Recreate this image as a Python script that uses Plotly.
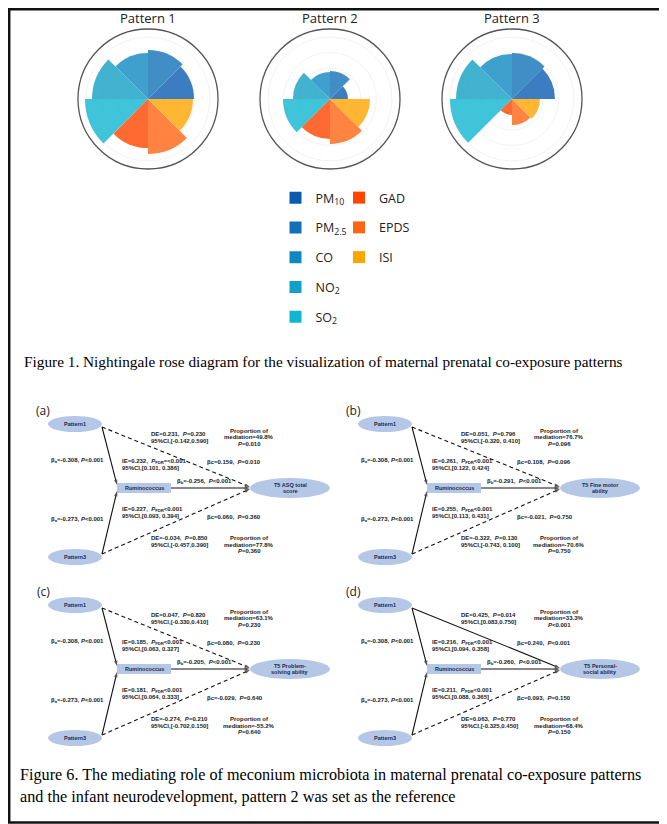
import plotly.graph_objects as go

# The page is shown with the browser's default 8px body margin, so the figure is
# sized to the visible area and its pixel axes are expressed in screen pixels.
OFF = 8
W, H = 667 - OFF, 824 - OFF
SW, SH = 667, 824

def paper_x(X):
    return (X - OFF) / W

def paper_y(Y):
    return (SH - Y) / H

# ---------------- Rose chart data ----------------
pollutants = ["PM10", "PM2.5", "CO", "NO2", "SO2", "GAD", "EPDS", "ISI"]
legend_names = ["PM<sub>10</sub>", "PM<sub>2.5</sub>", "CO", "NO<sub>2</sub>", "SO<sub>2</sub>", "GAD", "EPDS", "ISI"]
sector_theta = [22.5, 67.5, 112.5, 157.5, 202.5, 247.5, 292.5, 337.5]
colors = ["#0b5bb0", "#1270b8", "#0f87c0", "#12a0c6", "#10b5d0", "#ff4500", "#ff6512", "#ffa500"]
pattern_titles = ["Pattern 1", "Pattern 2", "Pattern 3"]
pattern1 = [46, 49, 46, 56, 63, 49, 55, 45]
pattern2 = [18, 28, 27, 37, 47, 40, 45, 40]
pattern3 = [43, 46, 45, 56, 62, 16, 26, 28]
patterns = [pattern1, pattern2, pattern3]
rose_centers_x = [148, 330, 512]
rose_center_y = 99
rose_radius = 70

# ---------------- Mediation diagram data ----------------
panel_labels = ["(a)", "(b)", "(c)", "(d)"]
outcome_line1 = ["T5 ASQ total", "T5 Fine motor", "T5 Problem-", "T5 Personal-"]
outcome_line2 = ["score", "ability", "solving ability", "social ability"]
beta_a_p1 = ["-0.308", "-0.308", "-0.308", "-0.308"]
beta_a_p3 = ["-0.273", "-0.273", "-0.273", "-0.273"]
beta_a_P = ["<0.001", "<0.001", "<0.001", "<0.001"]
beta_b = ["-0.256", "-0.291", "-0.205", "-0.260"]
beta_b_P = ["<0.001", "<0.001", "<0.001", "<0.001"]
de_p1 = ["0.231", "0.051", "0.047", "0.425"]
de_p1_P = ["=0.230", "=0.796", "=0.820", "=0.014"]
de_p1_ci = ["[-0.142,0.590]", "[-0.320, 0.410]", "[-0.330,0.410]", "[0.083,0.750]"]
ie_p1 = ["0.232", "0.261", "0.185", "0.216"]
ie_p1_P = ["=<0.001", "<0.001", "<0.001", "<0.001"]
ie_p1_ci = ["[0.101, 0.386]", "[0.122, 0.424]", "[0.063, 0.327]", "[0.094, 0.358]"]
bc_p1 = ["0.159", "0.108", "0.080", "0.240"]
bc_p1_P = ["=0.010", "=0.096", "=0.230", "<0.001"]
prop_p1 = ["49.8%", "76.7%", "63.1%", "33.3%"]
prop_p1_P = ["=0.010", "=0.096", "=0.230", "<0.001"]
ie_p3 = ["0.227", "0.255", "0.181", "0.211"]
ie_p3_P = ["<0.001", "<0.001", "<0.001", "<0.001"]
ie_p3_ci = ["[0.093, 0.394]", "[0.113, 0.431]", "[0.064, 0.333]", "[0.088, 0.365]"]
bc_p3 = ["0.060", "-0.021", "-0.029", "0.093"]
bc_p3_P = ["=0.360", "=0.750", "=0.640", "=0.150"]
de_p3 = ["-0.034", "-0.322", "-0.274", "0.063"]
de_p3_P = ["=0.850", "=0.130", "=0.210", "=0.770"]
de_p3_ci = ["[-0.457,0.390]", "[-0.743, 0.100]", "[-0.702,0.150]", "[-0.325,0.450]"]
prop_p3 = ["77.8%", "-70.6%", "-55.2%", "68.4%"]
prop_p3_P = ["=0.360", "=0.750", "=0.640", "=0.150"]
p1_direct_significant = [False, False, False, True]

caption1 = "Figure 1. Nightingale rose diagram for the visualization of maternal prenatal co-exposure patterns"
caption2a = "Figure 6. The mediating role of meconium microbiota in maternal prenatal co-exposure patterns"
caption2b = "and the infant neurodevelopment, pattern 2 was set as the reference"

panel_dx = [0, 310, 0, 310]
panel_dy = [0, 0, 181, 181]

fig = go.Figure()

# ---------------- Rose charts ----------------
polar_names = ["polar", "polar2", "polar3"]
for pi, vals in enumerate(patterns):
    for k, name in enumerate(pollutants):
        fig.add_trace(go.Barpolar(
            r=[vals[k]], theta=[sector_theta[k]], width=[45],
            marker=dict(color=colors[k], opacity=0.8, line=dict(width=0)),
            name=legend_names[k], legendgroup=name, showlegend=False,
            subplot=polar_names[pi], hoverinfo="name+r"))
# legend entries (zero-length bars carrying the full legend colour)
for k, name in enumerate(pollutants):
    fig.add_trace(go.Barpolar(
        r=[0], theta=[sector_theta[k]], width=[45],
        marker=dict(color=colors[k], line=dict(width=0)),
        name=legend_names[k], legendgroup=name, showlegend=True,
        legend="legend" if k < 5 else "legend2", subplot="polar", hoverinfo="skip"))

annotations = []
for pi in range(3):
    cx = rose_centers_x[pi]
    fig.update_layout(**{polar_names[pi]: dict(
        domain=dict(x=[paper_x(cx - rose_radius), paper_x(cx + rose_radius)],
                    y=[paper_y(rose_center_y + rose_radius), paper_y(rose_center_y - rose_radius)]),
        bgcolor="rgba(0,0,0,0)",
        radialaxis=dict(range=[0, 70], showticklabels=False, ticks="", showline=False,
                        gridcolor="#f3f3f3", gridwidth=1, tickvals=[15.5, 31, 46.5, 62]),
        angularaxis=dict(showgrid=False, showticklabels=False, ticks="", showline=True,
                         linecolor="#555555", linewidth=1.3,
                         direction="counterclockwise", rotation=0),
    )})
    annotations.append(dict(x=cx, y=18, xref="x", yref="y", text=pattern_titles[pi], showarrow=False,
                            font=dict(family="Open Sans", size=13, color="#222")))

# ---------------- pixel axes for the diagrams ----------------
fig.update_xaxes(range=[OFF, SW], visible=False, fixedrange=True, domain=[0, 1])
fig.update_yaxes(range=[SH, OFF], visible=False, fixedrange=True, domain=[0, 1])

shapes = []
TXT = dict(family="Liberation Sans", size=6, color="#222222", weight="bold")
NODE = dict(family="Liberation Sans", size=5.5, color="#1f2a4a", weight="bold")
ELL = "#b4c7e7"
LS = 6.5  # line spacing of the small diagram text

def txt(x, y, s, anchor="left", font=None):
    annotations.append(dict(x=x, y=y, xref="x", yref="y", text=s, showarrow=False,
                            xanchor=anchor, yanchor="middle", font=font or TXT))

def block(x, y_first, lines, anchor="left", font=None):
    for j, s in enumerate(lines):
        txt(x, y_first + j * LS, s, anchor=anchor, font=font)

def edge(x0, y0, x1, y1, dashed):
    fig.add_trace(go.Scatter(
        x=[x0, x1], y=[y0, y1], mode="lines+markers",
        line=dict(color="#111", width=1.1, dash="4px,3px" if dashed else "solid"),
        marker=dict(symbol=["circle", "arrow"], size=[0, 5.5], angleref="previous",
                    color="#111", line=dict(width=0)),
        showlegend=False, hoverinfo="skip", cliponaxis=False))

P = "<i>P</i>"
for i in range(4):
    dx, dy = panel_dx[i], panel_dy[i]
    txt(43 + dx, 410 + dy, panel_labels[i], anchor="center",
        font=dict(family="Open Sans", size=12, color="#222"))
    for (cy, lab) in [(424, "Pattern1"), (557, "Pattern3")]:
        shapes.append(dict(type="circle", xref="x", yref="y", x0=48 + dx, x1=102 + dx,
                           y0=cy - 8 + dy, y1=cy + 8 + dy, fillcolor=ELL, line=dict(width=0), layer="below"))
        txt(75 + dx, cy + dy, lab, anchor="center", font=NODE)
    shapes.append(dict(type="rect", xref="x", yref="y", x0=117 + dx, x1=171 + dx,
                       y0=483 + dy, y1=493 + dy, fillcolor=ELL, line=dict(width=0), layer="below"))
    txt(144 + dx, 488 + dy, "Ruminococcus", anchor="center", font=NODE)
    shapes.append(dict(type="circle", xref="x", yref="y", x0=250 + dx, x1=330 + dx,
                       y0=478 + dy, y1=498 + dy, fillcolor=ELL, line=dict(width=0), layer="below"))
    block(290 + dx, 484.5 + dy, [outcome_line1[i], outcome_line2[i]], anchor="center", font=NODE)

    edge(102 + dx, 427 + dy, 117 + dx, 485 + dy, False)
    edge(102 + dx, 554 + dy, 117 + dx, 491 + dy, False)
    edge(171 + dx, 488 + dy, 250 + dx, 488 + dy, False)
    edge(102 + dx, 427 + dy, 250 + dx, 487 + dy, not p1_direct_significant[i])
    edge(102 + dx, 554 + dy, 250 + dx, 489 + dy, True)

    txt(77 + dx, 460 + dy, "β<sub>a</sub>=" + beta_a_p1[i] + ", " + P + beta_a_P[i], anchor="center")
    txt(77 + dx, 519 + dy, "β<sub>a</sub>=" + beta_a_p3[i] + ", " + P + beta_a_P[i], anchor="center")
    block(149 + dx, 434.3 + dy, ["DE=" + de_p1[i] + ",  " + P + de_p1_P[i], "95%CI," + de_p1_ci[i]])
    block(120 + dx, 461.5 + dy, ["IE=" + ie_p1[i] + ",  " + P + "<sub>FDR</sub>" + ie_p1_P[i], "95%CI," + ie_p1_ci[i]])
    block(249 + dx, 430.5 + dy, ["Proportion of", "mediation=" + prop_p1[i], P + prop_p1_P[i]], anchor="center")
    txt(205 + dx, 461.7 + dy, "βc=" + bc_p1[i] + ",  " + P + bc_p1_P[i])
    txt(175 + dx, 481.5 + dy, "β<sub>b</sub>=" + beta_b[i] + ",  " + P + beta_b_P[i])
    block(120 + dx, 509.5 + dy, ["IE=" + ie_p3[i] + ",  " + P + "<sub>FDR</sub>" + ie_p3_P[i], "95%CI," + ie_p3_ci[i]])
    txt(205 + dx, 516.7 + dy, "βc=" + bc_p3[i] + ",  " + P + bc_p3_P[i])
    block(149 + dx, 538 + dy, ["DE=" + de_p3[i] + ",  " + P + de_p3_P[i], "95%CI," + de_p3_ci[i]])
    block(249 + dx, 538 + dy, ["Proportion of", "mediation=" + prop_p3[i], P + prop_p3_P[i]], anchor="center")

# captions
txt(22, 361, caption1, font=dict(family="Liberation Serif", color="#000", size=15.3))
txt(18, 775, caption2a, font=dict(family="Liberation Serif", color="#000", size=16.2))
txt(18, 797, caption2b, font=dict(family="Liberation Serif", color="#000", size=16.2))

# frame
shapes.append(dict(type="rect", xref="x", yref="y", x0=OFF + 1.2, y0=OFF + 1.2, x1=SW - 1.5, y1=SH - 1.5,
                   line=dict(color="#111", width=2.5), fillcolor="rgba(0,0,0,0)", layer="above"))

LEG = dict(bgcolor="rgba(0,0,0,0)", borderwidth=0, font=dict(family="Open Sans", size=12.5, color="#222"),
           xanchor="left", yanchor="top", tracegroupgap=10.5, itemclick="toggleothers")
fig.update_layout(
    width=W, height=H, margin=dict(l=0, r=0, t=0, b=0),
    paper_bgcolor="white", plot_bgcolor="rgba(0,0,0,0)",
    shapes=shapes, annotations=annotations,
    legend=dict(LEG, x=paper_x(295.5 - 20), y=paper_y(183)),
    legend2=dict(LEG, x=paper_x(359 - 20), y=paper_y(183)),
    showlegend=True,
)

fig.write_html("out.html")
